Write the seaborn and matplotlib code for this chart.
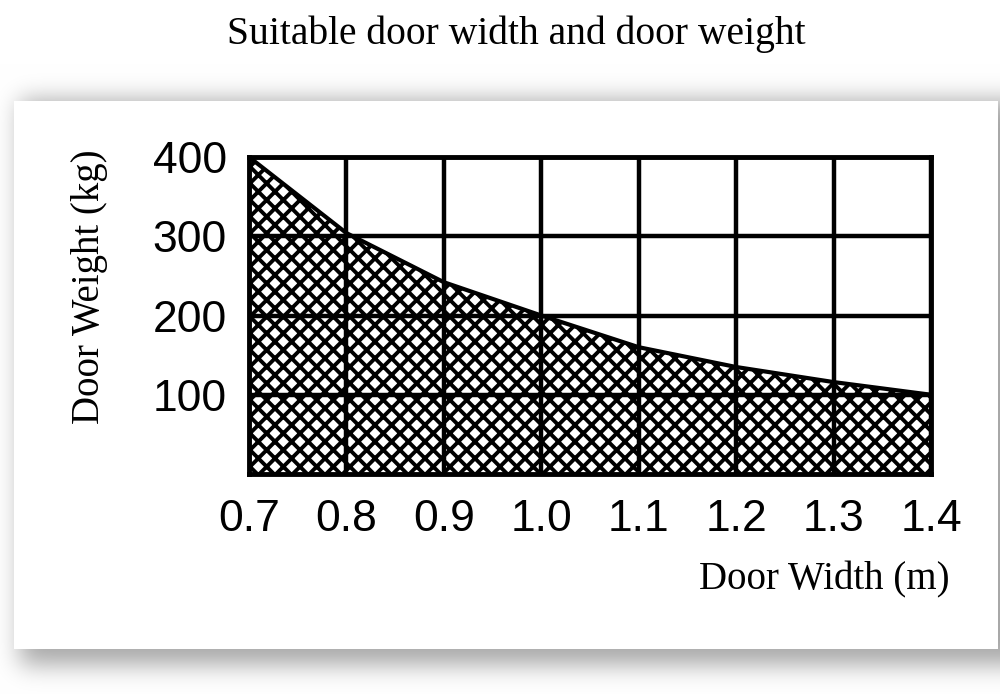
import numpy as np
import pandas as pd
import seaborn as sns
import matplotlib.pyplot as plt

# ---- data ----
door_width = [0.7, 0.8, 0.9, 1.0, 1.1, 1.2, 1.3, 1.4]
door_weight = [400, 304, 242, 200, 160, 135, 116, 100]
x_tick_labels = ["0.7", "0.8", "0.9", "1.0", "1.1", "1.2", "1.3", "1.4"]
y_ticks = [100, 200, 300, 400]
y_tick_labels = ["100", "200", "300", "400"]
title = "Suitable door width and door weight"
x_label = "Door Width (m)"
y_label = "Door Weight (kg)"

df = pd.DataFrame({"width": door_width, "weight": door_weight})

sns.set_style("white")
plt.rcParams["hatch.linewidth"] = 2.8
plt.rcParams["hatch.color"] = "black"

W, H = 1000, 694
fig = plt.figure(figsize=(W / 100, H / 100), dpi=100)
fig.patch.set_facecolor("white")

# ---- background card with soft shadow ----
yy, xx = np.mgrid[0:H, 0:W]
shadow = ((xx >= 20) & (xx <= 1004) & (yy >= 100) & (yy <= 664)).astype(float)


def blur1d(a, sigma, axis):
    r = int(3 * sigma)
    k = np.exp(-0.5 * (np.arange(-r, r + 1) / sigma) ** 2)
    k /= k.sum()
    return np.apply_along_axis(lambda v: np.convolve(np.pad(v, r, mode="edge"), k, mode="valid"), axis, a)


shadow = blur1d(blur1d(shadow, 12, 0), 12, 1)
gray = 1.0 - 0.34 * shadow
card = (xx >= 14) & (xx <= 997) & (yy >= 101) & (yy <= 648)
gray[card] = 1.0
img = np.dstack([gray, gray, gray])
fig.figimage(img, xo=0, yo=0, origin="upper", zorder=-5)

# ---- axes ----
top_px, bot_px, left_px, right_px = 157, 474, 249, 931
ax = fig.add_axes([left_px / W, 1 - bot_px / H, (right_px - left_px) / W, (bot_px - top_px) / H])
ax.set_zorder(2)
ax.set_facecolor("none")

ax.fill_between(df["width"], 0, df["weight"], facecolor="white", edgecolor="black",
                hatch="xx", linewidth=0, zorder=1)
sns.lineplot(data=df, x="width", y="weight", ax=ax, color="black", linewidth=3, zorder=4)

ax.set_xlim(0.7, 1.4)
ax.set_ylim(0, 400)
ax.set_xticks(door_width)
ax.set_yticks(y_ticks)
ax.set_axisbelow(False)
ax.grid(True, color="black", linewidth=3.2)
for s in ax.spines.values():
    s.set_visible(True)
    s.set_color("black")
    s.set_linewidth(3.5)
    s.set_zorder(5)

tick_font = ["Liberation Sans", "DejaVu Sans"]
ax.set_xticklabels(x_tick_labels, fontsize=32, family=tick_font, color="black")
ax.set_yticklabels(y_tick_labels, fontsize=32, family=tick_font, color="black")
ax.tick_params(axis="x", length=0, pad=18)
ax.tick_params(axis="y", length=0, pad=16)
ax.set_xlabel("")
ax.set_ylabel("")

serif = ["Liberation Serif", "DejaVu Serif"]
fig.text(0.516, 1 - 34 / H, title, ha="center", va="center", fontsize=28.5, family=serif, color="black")
fig.text(0.950, 1 - 580 / H, x_label, ha="right", va="center", fontsize=28, family=serif, color="black")
fig.text(0.090, 1 - 287 / H, y_label, ha="center", va="center", rotation=90, fontsize=28,
         family=serif, color="black")

fig.savefig("out.png", dpi=100, facecolor="white")
